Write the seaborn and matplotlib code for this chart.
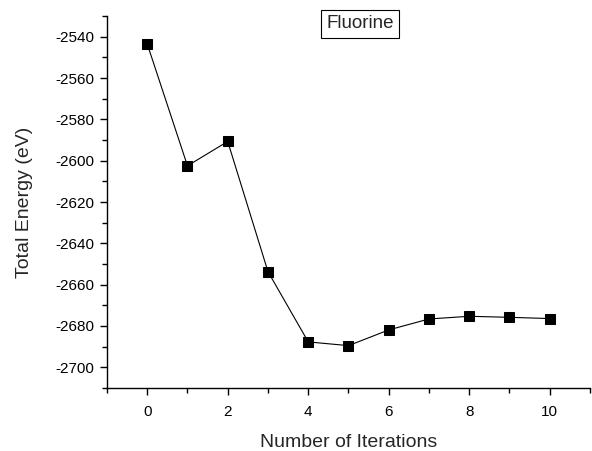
import matplotlib
matplotlib.use("Agg")
import matplotlib.pyplot as plt
import seaborn as sns
import pandas as pd
from matplotlib.ticker import MultipleLocator

iterations = [0, 1, 2, 3, 4, 5, 6, 7, 8, 9, 10]
energy = [-2543.5, -2602.5, -2590.7, -2653.7, -2687.7, -2689.5,
          -2681.9, -2676.6, -2675.3, -2675.8, -2676.4]
title_text = "Fluorine"
xlabel = "Number of Iterations"
ylabel = "Total Energy (eV)"

sns.set_theme(style="ticks")
plt.rcParams['font.family'] = ['Liberation Sans', 'DejaVu Sans']
plt.rcParams['axes.unicode_minus'] = False

df = pd.DataFrame({"it": iterations, "E": energy})

fig = plt.figure(figsize=(5.92, 4.51), dpi=100)
ax = fig.add_axes([0.1807, 0.1397, 0.8159, 0.8248])
sns.lineplot(data=df, x="it", y="E", ax=ax, color="black", linewidth=0.8,
             marker="s", markersize=7, markeredgecolor="black",
             markerfacecolor="black")

ax.set_xlim(-1, 11)
ax.set_ylim(-2710, -2530)
ax.xaxis.set_major_locator(MultipleLocator(2))
ax.xaxis.set_minor_locator(MultipleLocator(1))
ax.yaxis.set_minor_locator(MultipleLocator(10))
ax.set_yticks(list(range(-2700, -2539, 20)))
ax.tick_params(which="major", direction="out", length=5, width=1, labelsize=11, colors="black", pad=4)
ax.tick_params(axis="x", which="major", pad=7)
ax.tick_params(which="minor", direction="out", length=3.5, width=1, colors="black")
for s in ["top", "right"]:
    ax.spines[s].set_visible(False)
for s in ["left", "bottom"]:
    ax.spines[s].set_linewidth(1)
    ax.spines[s].set_color("black")

ax.set_xlabel(xlabel, fontsize=14, labelpad=11)
ax.set_ylabel(ylabel, fontsize=14, labelpad=16)

fig.text(0.608, 0.947, title_text, fontsize=13.5, ha="center", va="center",
         bbox=dict(boxstyle="square,pad=0.3", facecolor="white", edgecolor="black", linewidth=0.8))

fig.savefig("out.png", dpi=100)
